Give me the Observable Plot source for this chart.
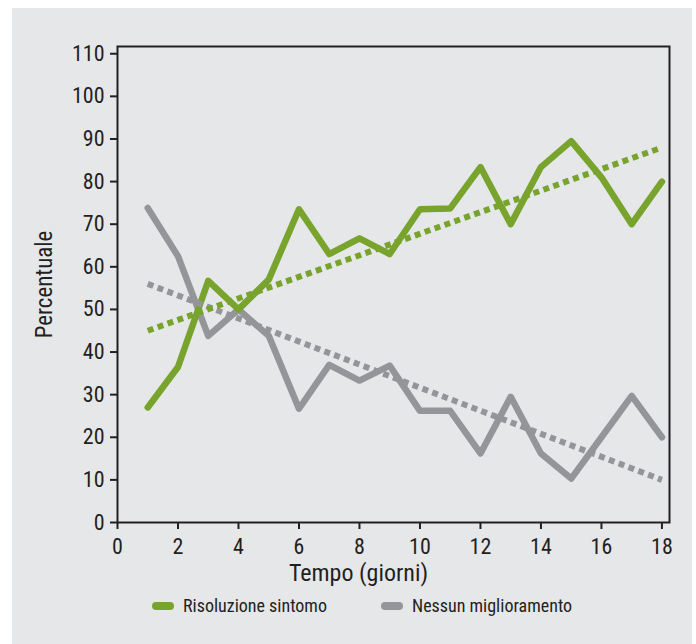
<!DOCTYPE html>
<html>
<head>
<meta charset="utf-8">
<script src="https://cdn.jsdelivr.net/npm/d3@7"></script>
<script src="https://cdn.jsdelivr.net/npm/@observablehq/plot@0.6"></script>
<style>
  html, body { margin: 0; padding: 0; background: #ffffff; }
  #bg { position: absolute; left: 12px; top: 8px; width: 680px; height: 636px; background: #e6e7e9; }
  #chart { position: absolute; left: 0; top: 0; }
  #legend { position: absolute; left: 0; top: 590px; width: 696px; height: 40px;
    font-family: "Liberation Sans Narrow", "Roboto Condensed", "Open Sans", sans-serif; font-size: 18px; color: #231f20; }
  .item { position: absolute; top: 5px; display: flex; align-items: center; }
  .sw { width: 22px; height: 8px; border-radius: 4px; margin-right: 9px; }
</style>
</head>
<body>
<div id="bg"></div>
<div id="chart"></div>
<div id="legend"></div>
<script>
const days = [1,2,3,4,5,6,7,8,9,10,11,12,13,14,15,16,17,18];
const risoluzione = [27,36.5,56.7,50,57,73.5,63,66.7,63,73.5,73.7,83.4,70,83.4,89.5,81,70,80];
const nessun = [73.8,62.5,43.8,50,43.8,26.7,37,33.3,36.8,26.2,26.2,16.2,29.5,16.2,10.3,20,29.7,20];
const trendDays = [1, 18];
const trendRisoluzione = [45, 88];
const trendNessun = [56, 10];
const xTicks = [0,2,4,6,8,10,12,14,16,18];
const yTicks = [0,10,20,30,40,50,60,70,80,90,100,110];
const seriesNames = ["Risoluzione sintomo", "Nessun miglioramento"];
const colors = ["#78a42e", "#939598"];

const green = days.map((d, i) => ({x: d, y: risoluzione[i]}));
const gray = days.map((d, i) => ({x: d, y: nessun[i]}));
const tGreen = trendDays.map((d, i) => ({x: d, y: trendRisoluzione[i]}));
const tGray = trendDays.map((d, i) => ({x: d, y: trendNessun[i]}));

const font = '"Liberation Sans Narrow", "Roboto Condensed", "Open Sans", sans-serif';
const ink = "#231f20";

const chart = Plot.plot({
  width: 696,
  height: 590,
  marginLeft: 117,
  marginRight: 27,
  marginTop: 46,
  marginBottom: 68,
  style: { background: "transparent", fontFamily: font, color: ink },
  x: { domain: [0, 18.25] },
  y: { domain: [0, 111.7] },
  marks: [
    Plot.line(gray, {x: "x", y: "y", stroke: colors[1], strokeWidth: 6.5, strokeLinejoin: "round", strokeLinecap: "round"}),
    Plot.line(green, {x: "x", y: "y", stroke: colors[0], strokeWidth: 6.5, strokeLinejoin: "round", strokeLinecap: "round"}),
    Plot.line(tGray, {x: "x", y: "y", stroke: colors[1], strokeWidth: 6, strokeDasharray: "6 4.5", strokeLinecap: "butt"}),
    Plot.line(tGreen, {x: "x", y: "y", stroke: colors[0], strokeWidth: 6, strokeDasharray: "6 4.5", strokeLinecap: "butt"}),
    Plot.frame({stroke: ink, strokeWidth: 2}),
    Plot.axisX({ticks: xTicks, tickSize: 7, tickPadding: 9, tickFormat: d => String(d), fontSize: 22, label: null, stroke: ink, strokeWidth: 2, fill: ink}),
    Plot.axisY({ticks: yTicks, tickSize: 7, tickPadding: 6, tickFormat: d => String(d), fontSize: 22, label: null, stroke: ink, strokeWidth: 2, fill: ink}),
    Plot.text(["Tempo (giorni)"], {frameAnchor: "bottom", dy: 58, dx: -35, fontSize: 24, fill: ink, text: d => d}),
    Plot.text(["Percentuale"], {frameAnchor: "left", textAnchor: "middle", dx: -73, rotate: -90, fontSize: 23, fill: ink, text: d => d})
  ]
});
document.getElementById("chart").appendChild(chart);

const legend = document.getElementById("legend");
const lefts = [152, 381];
seriesNames.forEach((name, i) => {
  const it = document.createElement("div");
  it.className = "item";
  it.style.left = lefts[i] + "px";
  it.innerHTML = `<span class="sw" style="background:${colors[i]}"></span><span>${name}</span>`;
  legend.appendChild(it);
});
</script>
</body>
</html>
